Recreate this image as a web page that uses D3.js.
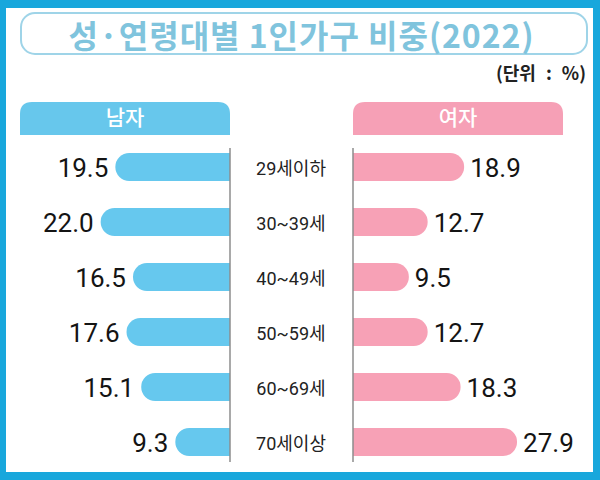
<!DOCTYPE html>
<html>
<head>
<meta charset="utf-8">
<script src="https://cdn.jsdelivr.net/npm/d3@7"></script>
<style>
  body { margin: 0; background: #fff; }
</style>
</head>
<body>
<div id="chart"></div>
<script>
// 데이터
const categories = ["29세이하", "30~39세", "40~49세", "50~59세", "60~69세", "70세이상"];
const male = [19.5, 22.0, 16.5, 17.6, 15.1, 9.3];
const female = [18.9, 12.7, 9.5, 12.7, 18.3, 27.9];

const width = 600;
const height = 480;
const leftAxis = 230;   // 남자 막대 기준선
const rightAxis = 353;  // 여자 막대 기준선
const barH = 28;
const krFont = "Roboto, 'Noto Sans CJK KR', sans-serif";

const svg = d3.select("#chart")
    .append("svg")
    .attr("width", width)
    .attr("height", height)
    .style("font-family", krFont);

// 바깥 파란 테두리
svg.append("rect")
    .attr("width", width).attr("height", height)
    .attr("fill", "#18a7dc");
svg.append("rect")
    .attr("x", 6).attr("y", 8)
    .attr("width", 587).attr("height", 464)
    .attr("fill", "#fff");

// 제목 박스
svg.append("rect")
    .attr("x", 21).attr("y", 13)
    .attr("width", 566).attr("height", 41)
    .attr("rx", 14)
    .attr("fill", "#fff")
    .attr("stroke", "#9fd4e8")
    .attr("stroke-width", 2);
svg.append("text")
    .attr("x", 301).attr("y", 34)
    .attr("text-anchor", "middle")
    .attr("dominant-baseline", "central")
    .attr("font-size", 32)
    .attr("font-weight", 700)
    .attr("fill", "#80c4dd")
    .style("font-family", "'Noto Sans CJK KR', sans-serif")
    .attr("textLength", 465)
    .text("성·연령대별 1인가구 비중(2022)");

svg.append("text")
    .attr("x", 586).attr("y", 72)
    .attr("text-anchor", "end")
    .attr("dominant-baseline", "central")
    .attr("font-size", 18)
    .attr("font-weight", 700)
    .attr("word-spacing", 6)
    .attr("fill", "#222")
    .style("font-family", "'Noto Sans CJK KR', sans-serif")
    .text("(단위 : %)");

// 헤더 (남자 / 여자)
function topRounded(x, y, w, h, r) {
    return `M${x},${y + h}V${y + r}Q${x},${y} ${x + r},${y}H${x + w - r}Q${x + w},${y} ${x + w},${y + r}V${y + h}Z`;
}
svg.append("path").attr("d", topRounded(20, 102, 210, 33, 12)).attr("fill", "#67c7ec");
svg.append("path").attr("d", topRounded(353, 102, 210, 33, 12)).attr("fill", "#f6a0b6");
svg.append("text").attr("x", 125).attr("y", 118)
    .attr("text-anchor", "middle").attr("dominant-baseline", "central")
    .attr("font-size", 21).attr("font-weight", 500).attr("fill", "#fff").text("남자");
svg.append("text").attr("x", 458).attr("y", 118)
    .attr("text-anchor", "middle").attr("dominant-baseline", "central")
    .attr("font-size", 21).attr("font-weight", 500).attr("fill", "#fff").text("여자");

// 스케일
const x = d3.scaleLinear().domain([0, 30]).range([0, 176.4]);
const y = d3.scalePoint().domain(categories).range([167, 442]);

const rows = categories.map((c, i) => ({cat: c, m: male[i], f: female[i]}));

// 바깥쪽만 둥근 막대
function leftBar(x0, x1, yc) {
    const r = barH / 2, t = yc - r;
    return `M${x1},${t}H${x0 + r}A${r},${r} 0 0 0 ${x0 + r},${t + barH}H${x1}Z`;
}
function rightBar(x0, x1, yc) {
    const r = barH / 2, t = yc - r;
    return `M${x0},${t}H${x1 - r}A${r},${r} 0 0 1 ${x1 - r},${t + barH}H${x0}Z`;
}

svg.append("g").selectAll("path")
    .data(rows)
    .join("path")
    .attr("d", d => leftBar(leftAxis - x(d.m), leftAxis, y(d.cat)))
    .attr("fill", "#66c8ee");

svg.append("g").selectAll("path")
    .data(rows)
    .join("path")
    .attr("d", d => rightBar(rightAxis, rightAxis + x(d.f), y(d.cat)))
    .attr("fill", "#f7a1b6");

// 기준선
[leftAxis, rightAxis].forEach(ax => {
    svg.append("line")
        .attr("x1", ax).attr("x2", ax)
        .attr("y1", 148).attr("y2", 462)
        .attr("stroke", "#8c8c8c")
        .attr("stroke-width", 1.5);
});

// 값 라벨
svg.append("g").selectAll("text")
    .data(rows)
    .join("text")
    .attr("x", d => leftAxis - x(d.m) - 7)
    .attr("y", d => y(d.cat) + 1)
    .attr("text-anchor", "end")
    .attr("dominant-baseline", "central")
    .attr("font-size", 26)
    .attr("font-weight", 400)
    .attr("fill", "#141414")
    .text(d => d.m.toFixed(1));

svg.append("g").selectAll("text")
    .data(rows)
    .join("text")
    .attr("x", d => rightAxis + x(d.f) + 6)
    .attr("y", d => y(d.cat) + 1)
    .attr("text-anchor", "start")
    .attr("dominant-baseline", "central")
    .attr("font-size", 26)
    .attr("font-weight", 400)
    .attr("fill", "#141414")
    .text(d => d.f.toFixed(1));

// 연령대 라벨
svg.append("g").selectAll("text")
    .data(rows)
    .join("text")
    .attr("x", 291)
    .attr("y", d => y(d.cat) + 1)
    .attr("text-anchor", "middle")
    .attr("dominant-baseline", "central")
    .attr("font-size", 18)
    .attr("fill", "#222")
    .text(d => d.cat);
</script>
</body>
</html>
